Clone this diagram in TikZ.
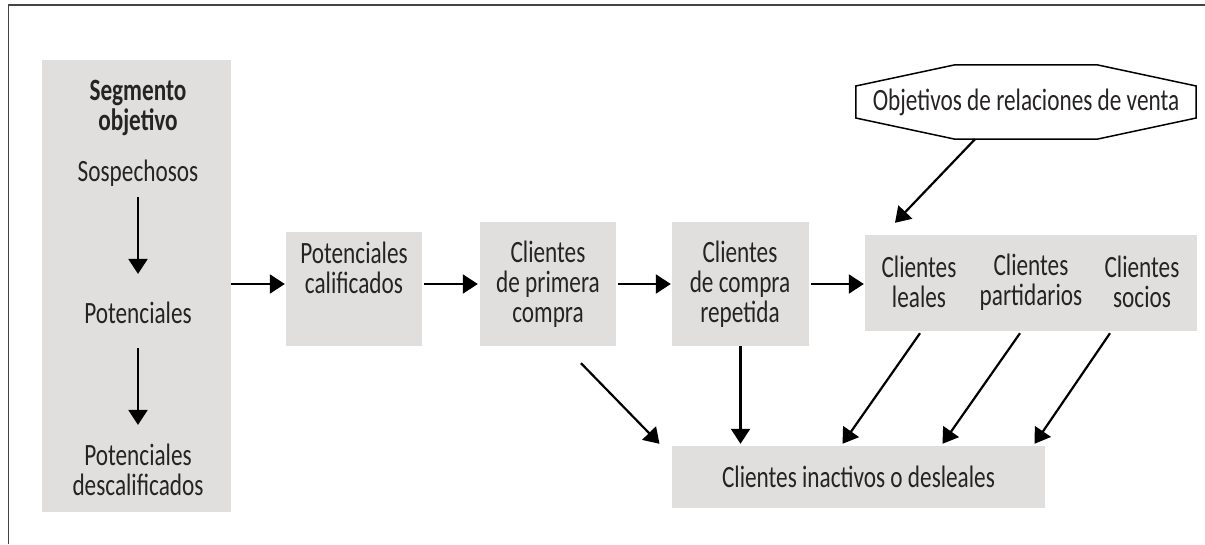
\documentclass[tikz,border=0pt]{standalone}
\usepackage{fontspec}
\setmainfont{Carlito}[FakeStretch=0.75]
\usetikzlibrary{arrows.meta}
\definecolor{boxgray}{HTML}{E0DFDE}
\definecolor{txtc}{HTML}{262324}
\definecolor{framec}{HTML}{444444}
\tikzset{
  box/.style={fill=boxgray, draw=none, inner sep=0pt},
  txt/.style={align=center, text=txtc, inner sep=0pt, font=\fontsize{31}{30}\selectfont},
  btxt/.style={txt, font=\fontsize{31}{30}\selectfont\bfseries},
  arr/.style={-{Triangle[length=15pt,width=19pt]}, line width=2.2pt, black},
}
\begin{document}
\begin{tikzpicture}[x=1pt,y=-1pt]
\useasboundingbox (0,0) rectangle (1205,544);
\draw[framec, line width=1.5pt] (8.5,544) -- (8.5,5) -- (1205,5);

% boxes
\node[box, minimum width=189pt, minimum height=452pt] (seg) at (136.5,286) {};
\node[box, minimum width=136pt, minimum height=114pt] (pc) at (354,289) {};
\node[box, minimum width=136pt, minimum height=124pt] (cpc) at (548,284) {};
\node[box, minimum width=137pt, minimum height=124pt] (ccr) at (740.5,284) {};
\node[box, minimum width=332pt, minimum height=96pt] (rb) at (1031,283) {};
\node[box, minimum width=373pt, minimum height=62pt] (bi) at (858.5,477) {};

% octagon
\node[minimum width=340pt, minimum height=74pt, inner sep=0pt] (oct) at (1026,102) {};
\draw[line width=1.5pt, fill=white]
  ([xshift=-71pt]oct.north) -- ([xshift=71pt]oct.north) -- ([yshift=16pt]oct.east)
  -- ([yshift=-16pt]oct.east) -- ([xshift=71pt]oct.south) -- ([xshift=-71pt]oct.south)
  -- ([yshift=-16pt]oct.west) -- ([yshift=16pt]oct.west) -- cycle;
\node[txt] (octt) at (oct.center) {Objetivos de relaciones de venta};

% texts
\node[btxt] (segt) at (138,108) {Segmento\\objetivo};
\node[txt] (sosp) at (138,173) {Sospechosos};
\node[txt] (pot) at (138,313) {Potenciales};
\node[txt] (potd) at (138,470) {Potenciales\\descalificados};
\node[txt] (pct) at (354,268) {Potenciales\\calificados};
\node[txt] (cpct) at (548,284) {Clientes\\de primera\\compra};
\node[txt] (ccrt) at (740,284) {Clientes\\de compra\\repetida};
\node[txt] (cl) at (919,282) {Clientes\\leales};
\node[txt] (cp) at (1031,282) {Clientes\\partidarios};
\node[txt] (cs) at (1142,282) {Clientes\\socios};
\node[txt] (bit) at (bi.center) {Clientes inactivos o desleales};

% arrows
\draw[arr] ([yshift=-11pt]sosp.south) -- ([yshift=28pt]pot.north);
\draw[arr] ([yshift=-24pt]pot.south) -- ([yshift=19pt]potd.north);
\draw[arr] (seg.east |- cpc.west) -- ([xshift=-1pt]pc.west |- cpc.west);
\draw[arr] ([xshift=2pt]pc.east |- cpc.west) -- ([xshift=-2pt]cpc.west);
\draw[arr] ([xshift=2pt]cpc.east) -- ([xshift=-1pt]ccr.west);
\draw[arr] ([xshift=2pt]ccr.east |- cpc.west) -- ([xshift=-1pt]rb.west |- cpc.west);
\draw[arr] ([xshift=-51pt]oct.south) -- ([xshift=-136pt,yshift=12pt]rb.north);
\draw[arr] ([xshift=33pt,yshift=-17pt]cpc.south) -- ([xshift=-199pt,yshift=2pt]bi.north);
\draw[arr] (ccr.south) -- ([yshift=2pt]bi.north -| ccr.south);
\draw[arr] ([xshift=-111pt,yshift=-2pt]rb.south) -- ([xshift=-16pt,yshift=2pt]bi.north);
\draw[arr] ([xshift=-11pt,yshift=-2pt]rb.south) -- ([xshift=84pt,yshift=2pt]bi.north);
\draw[arr] ([xshift=79pt,yshift=-2pt]rb.south) -- ([xshift=176pt,yshift=2pt]bi.north);
\end{tikzpicture}
\end{document}
